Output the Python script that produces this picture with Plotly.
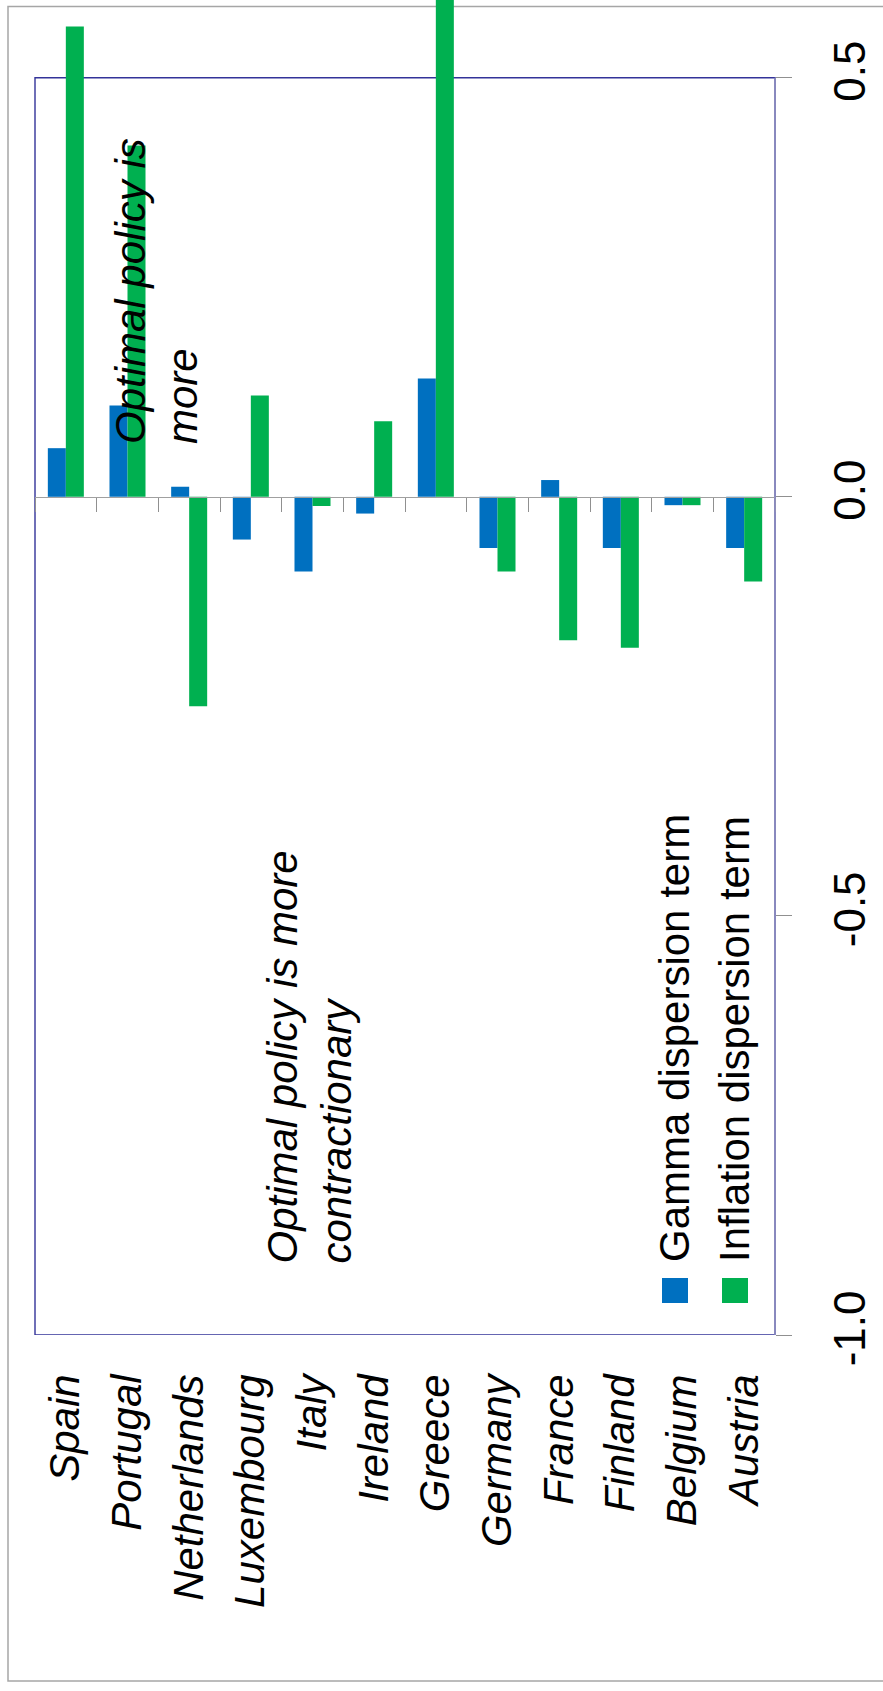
import plotly.graph_objects as go

countries = ["Spain", "Portugal", "Netherlands", "Luxembourg", "Italy", "Ireland",
             "Greece", "Germany", "France", "Finland", "Belgium", "Austria"]
gamma_term = [0.058, 0.109, 0.012, -0.051, -0.089, -0.020,
              0.141, -0.061, 0.020, -0.061, -0.010, -0.061]
inflation_term = [0.561, 0.419, -0.250, 0.121, -0.011, 0.090,
                  0.640, -0.089, -0.171, -0.180, -0.010, -0.101]

value_ticks = [-1.0, -0.5, 0.0, 0.5]
value_tick_text = ["-1.0", "-0.5", "0.0", "0.5"]
VMIN, VMAX = -1.0, 0.5

BLUE = "#0070C0"
GREEN = "#00B050"
FONT = "Liberation Sans, Arial, sans-serif"

W, H = 883, 1691
ML, MR, MB = 35, 108, 356
PW = W - ML - MR
PLOT_BOTTOM = H - MB          # page y of the value -1.0
FRAME_TOP = 77.7              # page y of the value 0.5
UNIT = (PLOT_BOTTOM - FRAME_TOP) / (VMAX - VMIN)
# the subplot runs to the top edge of the page so tall bars can overshoot the frame
Y_TOP = VMAX + FRAME_TOP / UNIT
PH = PLOT_BOTTOM


def px(xp):
    """page pixel x -> paper x"""
    return (xp - ML) / PW


def py(yp):
    """page pixel y -> paper y"""
    return (PLOT_BOTTOM - yp) / PH


fig = go.Figure()
fig.add_trace(go.Bar(x=countries, y=gamma_term, name="Gamma dispersion term",
                     marker=dict(color=BLUE, line=dict(width=0)),
                     showlegend=False))
fig.add_trace(go.Bar(x=countries, y=inflation_term, name="Inflation dispersion term",
                     marker=dict(color=GREEN, line=dict(width=0)),
                     showlegend=False))

# category axis line through zero with boundary tick marks
n = len(countries)
fig.add_trace(go.Scatter(x=[-0.5, n - 0.5], y=[0, 0], xaxis="x2", yaxis="y",
                         mode="lines", line=dict(width=0), hoverinfo="skip",
                         showlegend=False))

shapes = [
    # outer chart frame
    dict(type="rect", xref="paper", yref="paper", x0=px(8), x1=px(900),
         y0=py(1681), y1=py(6.5), line=dict(color="#a6a6a6", width=1.5),
         fillcolor="rgba(0,0,0,0)", layer="below"),
    # plot area frame
    dict(type="rect", xref="paper", yref="y", x0=0, x1=1, y0=VMIN, y1=VMAX,
         line=dict(color="#333399", width=1.4), fillcolor="rgba(0,0,0,0)",
         layer="below"),
    # value axis line on the right
    dict(type="line", xref="paper", yref="y", x0=1, x1=1, y0=VMIN, y1=VMAX,
         line=dict(color="#9090c0", width=1.6)),
    # legend keys
    dict(type="rect", xref="paper", yref="paper", x0=px(662), x1=px(688),
         y0=py(1303), y1=py(1278), fillcolor=BLUE, line=dict(width=0)),
    dict(type="rect", xref="paper", yref="paper", x0=px(722), x1=px(748),
         y0=py(1303), y1=py(1278), fillcolor=GREEN, line=dict(width=0)),
]


def vtext(text, xc, ystart, italic=False):
    font = dict(family=FONT, size=42, color="black")
    if italic:
        font["style"] = "italic"
    return dict(text=text, xref="paper", yref="paper", x=px(xc), y=py(ystart),
                xanchor="center", yanchor="bottom", textangle=-90,
                showarrow=False, font=font)


annotations = [
    vtext("Optimal policy is", 130, 446, italic=True),
    vtext("more", 182, 446, italic=True),
    vtext("Optimal policy is more", 282, 1266, italic=True),
    vtext("contractionary", 336, 1266, italic=True),
    vtext("Gamma dispersion term", 674, 1264),
    vtext("Inflation dispersion term", 734, 1264),
]

fig.update_layout(
    width=W, height=H,
    margin=dict(l=ML, r=MR, t=0, b=MB, pad=0),
    paper_bgcolor="white", plot_bgcolor="white",
    barmode="group", bargap=0.416, bargroupgap=0,
    shapes=shapes, annotations=annotations,
    xaxis=dict(type="category", categoryorder="array", categoryarray=countries,
               range=[-0.5, n - 0.5], showgrid=False, zeroline=False,
               showline=False, ticks="", tickangle=-90, ticklabelstandoff=30,
               tickfont=dict(family=FONT, size=42, color="black", style="italic")),
    xaxis2=dict(overlaying="x", anchor="free",
                position=(0 - VMIN) / (Y_TOP - VMIN),
                range=[-0.5, n - 0.5], showgrid=False, zeroline=False,
                showline=True, linecolor="#a0a0a0", linewidth=1.3,
                tickmode="array", tickvals=[i - 0.5 for i in range(n + 1)],
                ticks="outside", ticklen=14, tickcolor="#909090", tickwidth=1.3,
                showticklabels=False),
    yaxis=dict(side="right", range=[VMIN, Y_TOP], tickmode="array",
               tickvals=value_ticks, ticktext=value_tick_text,
               showgrid=False, zeroline=False, showline=False,
               ticks="outside", ticklen=16, tickcolor="#909090", tickwidth=1.3,
               tickangle=-90, ticklabelstandoff=20,
               tickfont=dict(family=FONT, size=44, color="black")),
)

fig.write_html("out.html")
